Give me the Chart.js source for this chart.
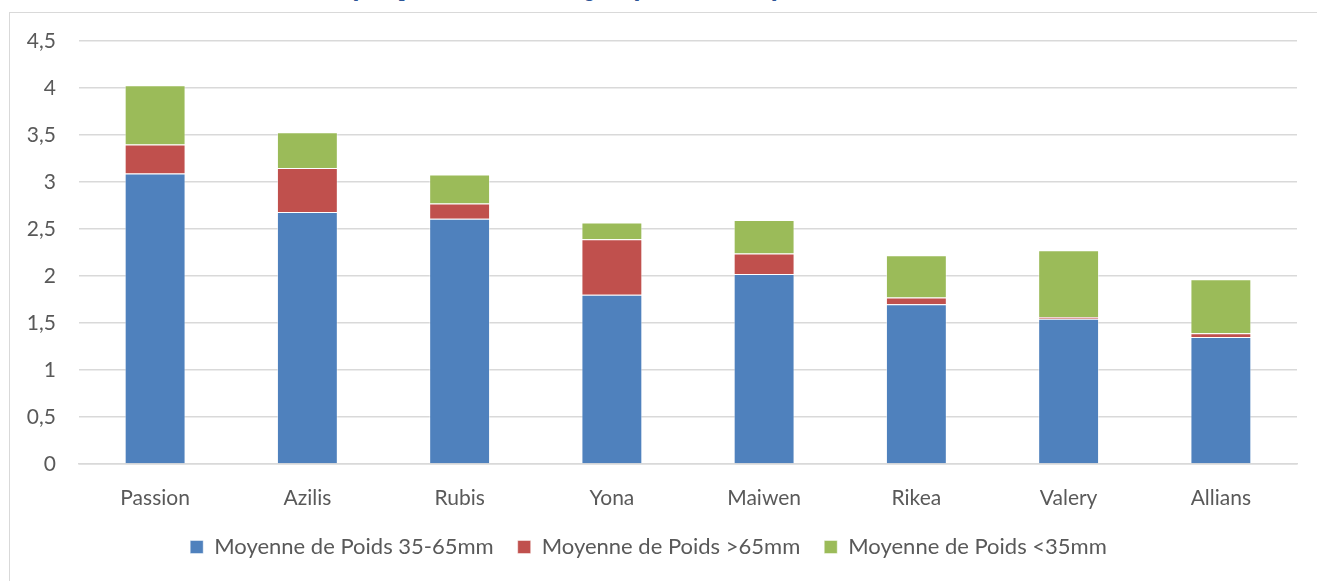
<!DOCTYPE html>
<html lang="fr">
<head>
<meta charset="utf-8">
<title>Moyenne de Poids par classe</title>
<script src="https://cdn.jsdelivr.net/npm/chart.js@4"></script>
<style>
  html, body {
    margin: 0;
    padding: 0;
    background: #ffffff;
    overflow: hidden;
  }
  #caption {
    position: absolute;
    left: 0;
    top: 0;
    width: 1317px;
    height: 6px;
    overflow: hidden;
  }
  #caption span {
    position: absolute;
    left: 311px;
    top: -23px;
    font-family: "DejaVu Serif", serif;
    font-style: italic;
    font-weight: bold;
    font-size: 21px;
    color: #2e5597;
    white-space: nowrap;
  }
  #frame {
    position: absolute;
    left: 9px;
    top: 12px;
    width: 1400px;
    height: 700px;
    border: 1.5px solid #d9d9d9;
  }
  #wrap {
    position: absolute;
    left: 0;
    top: 0;
    width: 1317px;
    height: 581px;
  }
</style>
</head>
<body>
<div id="caption"><span>Graphique 4 : Poids moyen par classes pour le calibre</span></div>
<div id="frame"></div>
<div id="wrap"><canvas id="poidsChart"></canvas></div>
<script>
const categories = ["Passion", "Azilis", "Rubis", "Yona", "Maiwen", "Rikea", "Valery", "Allians"];

const poids35a65 = [3.09, 2.68, 2.61, 1.80, 2.02, 1.70, 1.545, 1.35];
const poidsSup65 = [0.31, 0.47, 0.16, 0.59, 0.22, 0.07, 0.02, 0.04];
const poidsInf35 = [0.63, 0.38, 0.31, 0.18, 0.355, 0.45, 0.71, 0.575];

const seriesLabels = ["Moyenne de Poids 35-65mm", "Moyenne de Poids >65mm", "Moyenne de Poids <35mm"];
const yTicks = [0, 0.5, 1, 1.5, 2, 2.5, 3, 3.5, 4, 4.5];

const gridColor = "#d9d9d9";
const textColor = "#595959";

new Chart(document.getElementById("poidsChart"), {
  type: "bar",
  data: {
    labels: categories,
    datasets: [
      {
        label: seriesLabels[0],
        data: poids35a65,
        backgroundColor: "#4f81bd",
        borderColor: "rgba(255, 255, 255, 0.45)",
        borderWidth: 1
      },
      {
        label: seriesLabels[1],
        data: poidsSup65,
        backgroundColor: "#c0504d",
        borderColor: "rgba(255, 255, 255, 0.45)",
        borderWidth: 1
      },
      {
        label: seriesLabels[2],
        data: poidsInf35,
        backgroundColor: "#9bbb59",
        borderColor: "rgba(255, 255, 255, 0.45)",
        borderWidth: 1
      }
    ]
  },
  options: {
    responsive: true,
    maintainAspectRatio: false,
    animation: false,
    datasets: {
      bar: {
        categoryPercentage: 1,
        barPercentage: 0.4
      }
    },
    layout: {
      padding: { left: 0, right: 20, top: 41, bottom: 13 }
    },
    plugins: {
      legend: {
        position: "bottom",
        labels: {
          color: textColor,
          boxWidth: 13,
          boxHeight: 13,
          padding: 24,
          font: { family: "Lato", size: 22 }
        }
      },
      tooltip: { enabled: false }
    },
    scales: {
      x: {
        stacked: true,
        grid: { display: false, drawTicks: false },
        border: { display: true, color: gridColor, width: 1.5 },
        ticks: {
          color: textColor,
          padding: 22,
          font: { family: "Lato", size: 21 }
        },
        afterFit(scale) {
          scale.height = 48;
        }
      },
      y: {
        stacked: true,
        min: 0,
        max: 4.5,
        afterBuildTicks(scale) {
          scale.ticks = yTicks.map(value => ({ value }));
        },
        afterFit(scale) {
          scale.width = 79;
        },
        grid: { color: gridColor, lineWidth: 1.5, drawTicks: false },
        border: { display: false },
        ticks: {
          color: textColor,
          padding: 23,
          font: { family: "Lato", size: 21 },
          callback(value) {
            return String(value).replace(".", ",");
          }
        }
      }
    }
  }
});
</script>
</body>
</html>
